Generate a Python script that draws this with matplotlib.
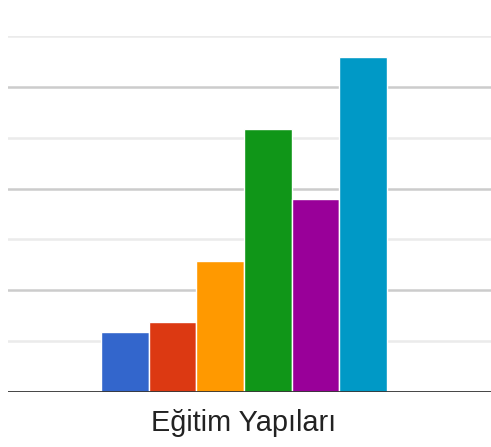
import matplotlib
matplotlib.use("Agg")
import matplotlib.pyplot as plt
import numpy as np

category = "Eğitim Yapıları"
series_names = ["Seri 1", "Seri 2", "Seri 3", "Seri 4", "Seri 5", "Seri 6"]
values = [11.7, 13.7, 25.8, 51.8, 37.9, 65.9]
colors = ["#3366cc", "#dc3912", "#ff9900", "#109618", "#990099", "#0099c6"]
major_ticks = [20, 40, 60]
minor_ticks = [10, 30, 50, 70]

fig = plt.figure(figsize=(4.91, 4.47), dpi=100)
ax = fig.add_axes([8 / 491, (447 - 392) / 447, 483 / 491, (392 - 36) / 447])

n = len(values)
offsets = np.arange(n) - (n - 1) / 2
for off, v, c, name in zip(offsets, values, colors, series_names):
    ax.bar(off, v, width=1.0, color=c, edgecolor="white", linewidth=1.0, label=name, zorder=3)

for t in major_ticks:
    ax.axhline(t, color="#cccccc", linewidth=1.8, zorder=1)
for t in minor_ticks:
    ax.axhline(t, color="#ebebeb", linewidth=1.8, zorder=1)
ax.axhline(0, color="#333333", linewidth=2.0, zorder=4)

ax.set_ylim(0, 70)
ax.set_xlim(-4.95, 5.18)
ax.set_xticks([0])
ax.set_xticklabels([category], fontsize=20.8, color="#222222", family="Liberation Sans")
ax.tick_params(axis="x", length=0, pad=12)
ax.set_yticks([])
for s in ax.spines.values():
    s.set_visible(False)

fig.savefig("out.png", dpi=100)
